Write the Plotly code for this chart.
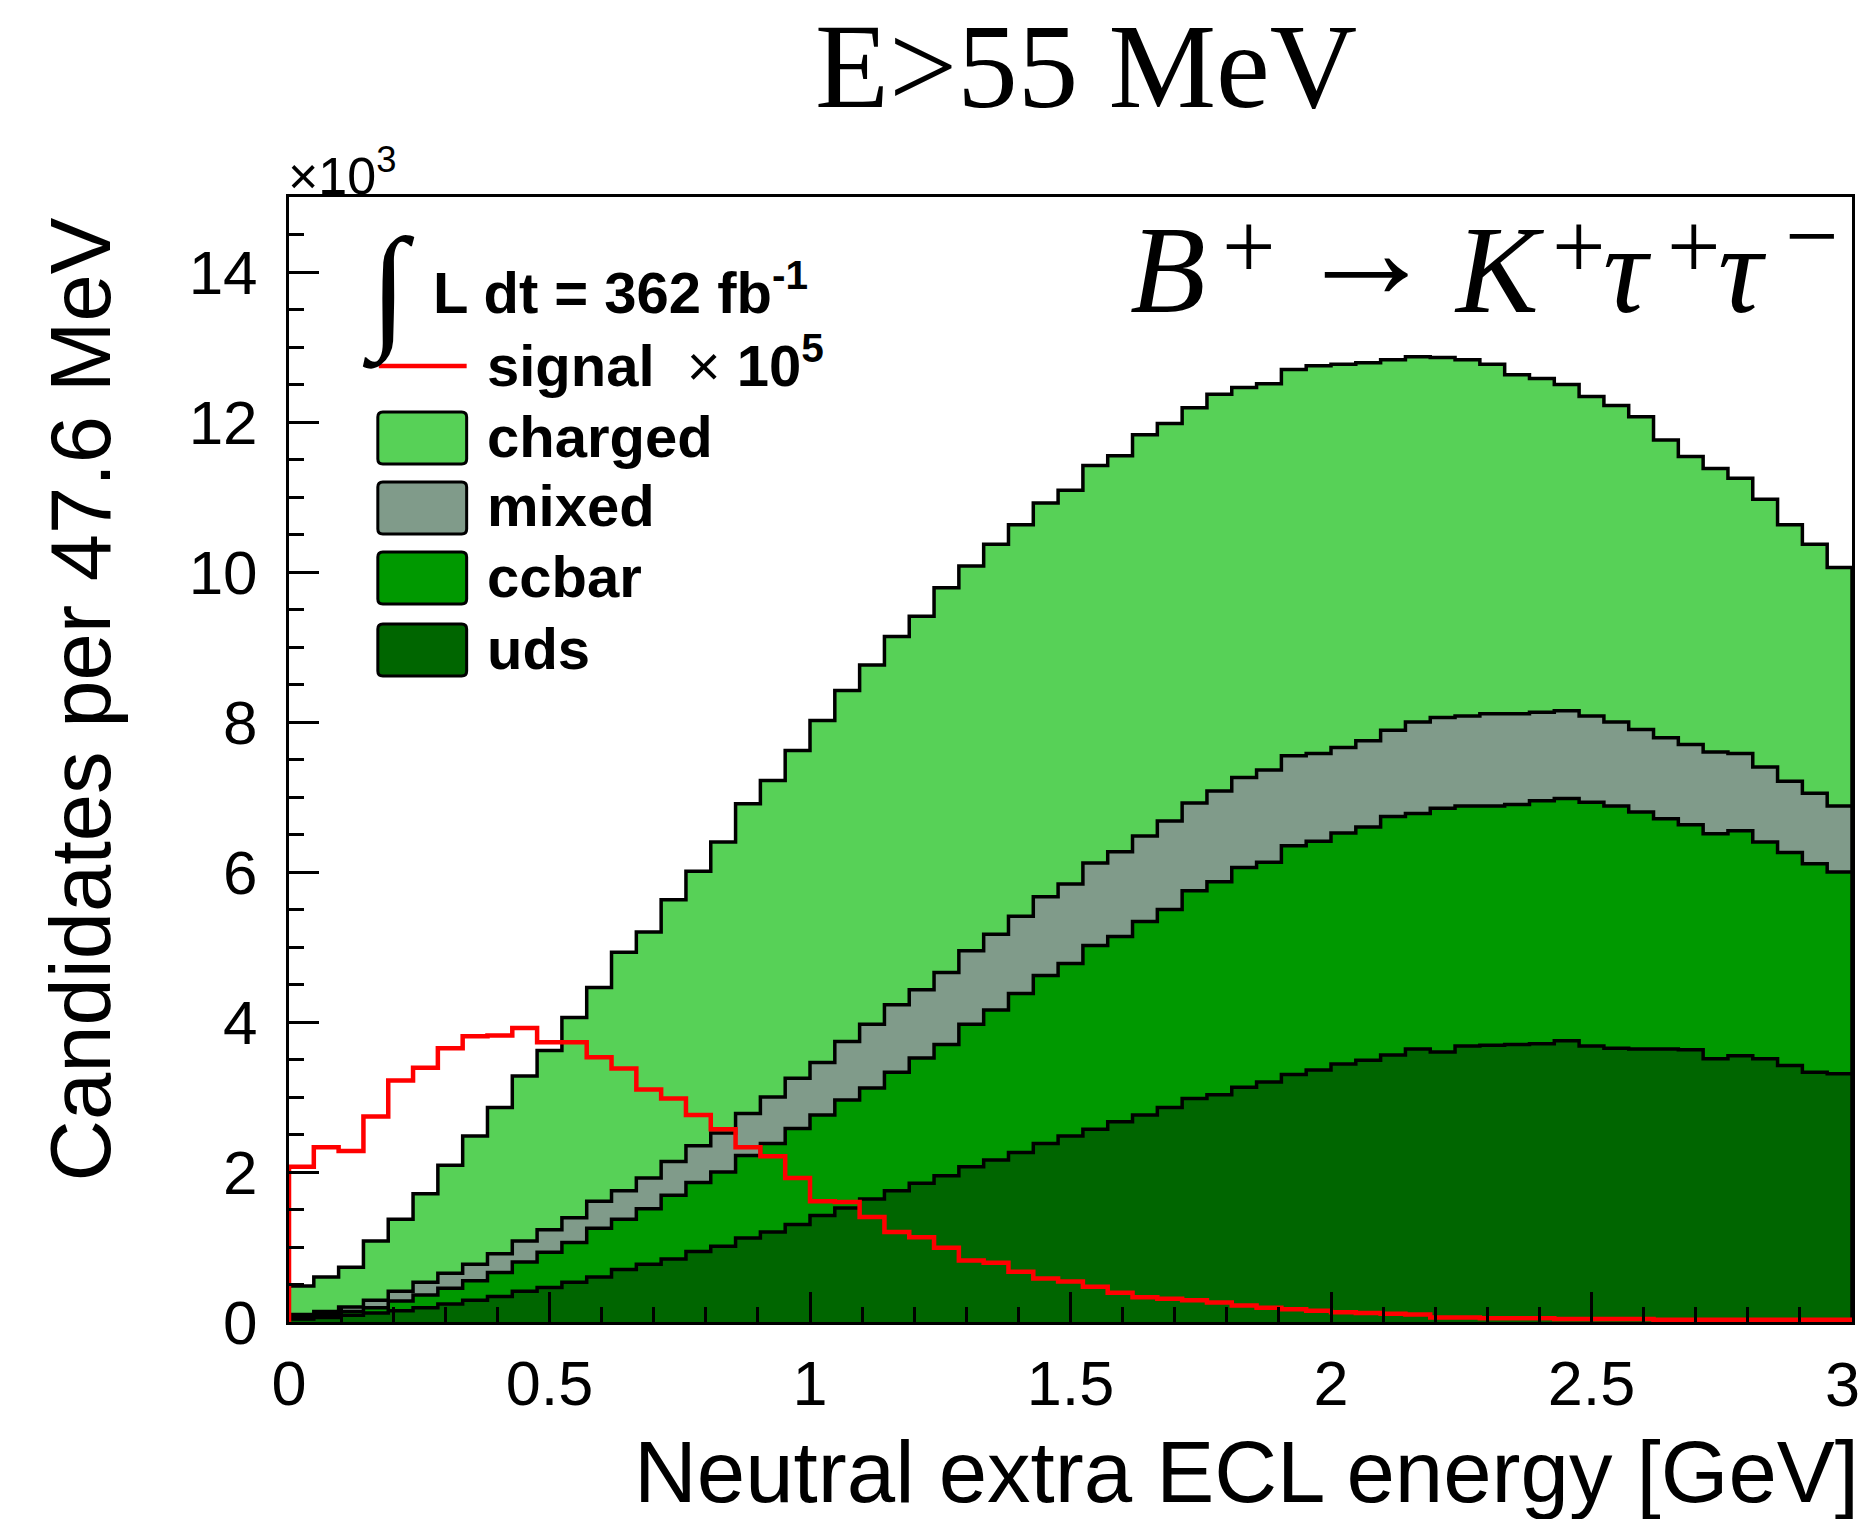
import numpy as np
import plotly.graph_objects as go

# ---------------- data (candidates per bin, in units of 10^3) ----------------
E_MIN, E_MAX, N_BINS = 0.0, 3.0, 63

uds = [0.04, 0.06, 0.09, 0.12, 0.15, 0.19, 0.24, 0.29, 0.34, 0.41,
       0.46, 0.53, 0.60, 0.70, 0.77, 0.84, 0.94, 1.01, 1.12, 1.20,
       1.30, 1.42, 1.52, 1.64, 1.75, 1.85, 1.95, 2.07, 2.16, 2.26,
       2.38, 2.48, 2.57, 2.67, 2.76, 2.86, 2.98, 3.03, 3.13, 3.20,
       3.30, 3.36, 3.44, 3.49, 3.56, 3.64, 3.60, 3.68, 3.69, 3.70,
       3.71, 3.75, 3.68, 3.65, 3.64, 3.64, 3.63, 3.51, 3.55, 3.51,
       3.42, 3.33, 3.31]
ccbar = [0.03, 0.04, 0.05, 0.07, 0.13, 0.17, 0.21, 0.26, 0.32, 0.39,
         0.47, 0.53, 0.65, 0.67, 0.74, 0.85, 0.92, 0.99, 1.10, 1.18,
         1.28, 1.34, 1.44, 1.48, 1.58, 1.67, 1.75, 1.90, 2.00, 2.12,
         2.24, 2.30, 2.45, 2.47, 2.58, 2.64, 2.77, 2.84, 2.93, 2.93,
         3.05, 3.05, 3.08, 3.11, 3.18, 3.14, 3.25, 3.20, 3.19, 3.20,
         3.24, 3.23, 3.25, 3.23, 3.16, 3.07, 3.00, 3.00, 3.00, 2.89,
         2.84, 2.78, 2.69]
mixed = [0.03, 0.04, 0.06, 0.10, 0.13, 0.17, 0.20, 0.22, 0.25, 0.28,
         0.30, 0.33, 0.36, 0.38, 0.41, 0.45, 0.49, 0.52, 0.56, 0.62,
         0.67, 0.70, 0.78, 0.85, 0.90, 0.91, 0.96, 0.98, 1.01, 1.03,
         1.05, 1.06, 1.10, 1.13, 1.14, 1.18, 1.17, 1.21, 1.20, 1.23,
         1.20, 1.17, 1.14, 1.15, 1.15, 1.22, 1.21, 1.20, 1.23, 1.21,
         1.18, 1.17, 1.15, 1.12, 1.10, 1.08, 1.07, 1.09, 1.03, 1.00,
         0.95, 0.94, 0.88]
charged = [0.38, 0.46, 0.53, 0.79, 0.96, 1.18, 1.44, 1.71, 1.95, 2.20,
           2.39, 2.67, 2.85, 3.18, 3.28, 3.49, 3.66, 3.88, 4.13, 4.22,
           4.37, 4.56, 4.68, 4.79, 4.91, 4.98, 5.13, 5.13, 5.20, 5.22,
           5.25, 5.25, 5.30, 5.28, 5.35, 5.30, 5.27, 5.29, 5.20, 5.15,
           5.15, 5.17, 5.11, 5.04, 4.94, 4.87, 4.80, 4.75, 4.66, 4.52,
           4.45, 4.35, 4.26, 4.22, 4.17, 3.97, 3.84, 3.78, 3.67, 3.57,
           3.42, 3.32, 3.18]
signal_x1e5 = [2.07, 2.33, 2.28, 2.74, 3.22, 3.39, 3.65, 3.81, 3.82, 3.92,
               3.73, 3.73, 3.53, 3.38, 3.10, 2.98, 2.76, 2.57, 2.33, 2.21,
               1.92, 1.61, 1.60, 1.40, 1.20, 1.13, 0.99, 0.82, 0.79, 0.67,
               0.58, 0.54, 0.47, 0.39, 0.33, 0.31, 0.29, 0.26, 0.22, 0.19,
               0.17, 0.15, 0.13, 0.12, 0.11, 0.10, 0.06, 0.06, 0.05, 0.05,
               0.05, 0.04, 0.04, 0.04, 0.04, 0.03, 0.03, 0.03, 0.03, 0.03,
               0.03, 0.03, 0.03]

x_tick_vals = [0, 0.5, 1, 1.5, 2, 2.5, 3]
x_tick_text = ["0", "0.5", "1", "1.5", "2", "2.5", "3"]
y_tick_vals = [0, 2, 4, 6, 8, 10, 12, 14]
y_tick_text = ["0", "2", "4", "6", "8", "10", "12", "14"]

# ---------------- styling ----------------
COLORS = {"charged": "#57d157", "mixed": "#809b8a", "ccbar": "#009900", "uds": "#006600"}
SANS = "Liberation Sans, Arial, Helvetica, sans-serif"
SERIF = "Liberation Serif, Times New Roman, serif"

PAGE_W, PAGE_H = 1874, 1527
OFF = 8                      # default body margin of the html page
W, H = PAGE_W - 2 * OFF, PAGE_H - 2 * OFF
# plot-area edges in page pixels
L, R, T, B = 289, 1855, 197, 1322


def px(x):
    return (x - L) / (R - L)


def py(y):
    return (B - y) / (B - T)


edges = np.linspace(E_MIN, E_MAX, N_BINS + 1)


def step_xy(vals):
    vals = np.asarray(vals, dtype=float)
    x = np.concatenate([[edges[0]], edges[:-1], [edges[-1]], [edges[-1]]])
    y = np.concatenate([[0.0], vals, [vals[-1]], [0.0]])
    return x, y


# stack bottom -> top: uds, ccbar, mixed, charged
order = [("uds", uds), ("ccbar", ccbar), ("mixed", mixed), ("charged", charged)]
cum = np.cumsum(np.array([v for _, v in order], dtype=float), axis=0)

fig = go.Figure()
for i in reversed(range(len(order))):
    name = order[i][0]
    x, y = step_xy(cum[i])
    fig.add_trace(go.Scatter(
        x=x, y=y, mode="lines", line=dict(shape="hv", color="black", width=3.5),
        fill="tozeroy", fillcolor=COLORS[name], name=name, showlegend=False,
        hoverinfo="skip"))

xs, ys = step_xy(signal_x1e5)
fig.add_trace(go.Scatter(x=xs, y=ys, mode="lines",
                         line=dict(shape="hv", color="#ff0000", width=4.5),
                         name="signal", showlegend=False, hoverinfo="skip"))

axis_common = dict(showline=True, linecolor="black", linewidth=3, mirror=True,
                   ticks="inside", ticklen=30, tickwidth=3, tickcolor="black",
                   showgrid=False, zeroline=False)

# the last x label sits on the page edge; it is drawn as an annotation below
x_axis_text = x_tick_text[:-1] + [""]
fig.update_xaxes(range=[E_MIN, E_MAX], tickmode="array", tickvals=x_tick_vals,
                 ticktext=x_axis_text, ticklabelstandoff=4,
                 tickfont=dict(family=SANS, size=63, color="black"),
                 minor=dict(dtick=0.1, ticks="inside", ticklen=15, tickwidth=2.5,
                            tickcolor="black", showgrid=False),
                 **axis_common)
fig.update_yaxes(range=[0, 15], tickmode="array", tickvals=y_tick_vals,
                 ticktext=y_tick_text, ticklabelstandoff=16,
                 tickfont=dict(family=SANS, size=62, color="black"),
                 minor=dict(dtick=0.5, ticks="inside", ticklen=15, tickwidth=2.5,
                            tickcolor="black", showgrid=False),
                 **axis_common)

ann = []


def text(t, x, y, size, family=SANS, xanchor="left", yanchor="middle", **kw):
    ann.append(dict(text=t, x=px(x), y=py(y), xanchor=xanchor, yanchor=yanchor,
                    font=dict(family=family, size=size, color="black"), **kw))


# last x tick label
text(x_tick_text[-1], PAGE_W - OFF - 1, 1384, 63, xanchor="right")
# title
text("E>55 MeV", 1088, 66, 121, family=SERIF, xanchor="center")
# axis titles
text("Neutral extra ECL energy [GeV]", 1864, 1471, 87, xanchor="right")
text("Candidates per 47.6 MeV", 80, 215, 85, xanchor="center", yanchor="top", textangle=-90)
# x10^3
text("×10<sup>3</sup>", 286, 207, 52, yanchor="bottom")

# decay label  B+ -> K+ tau+ tau-
MAIN, SUP = 124, 95
YM, YS = 270, 246
text("<i>B</i>", 1130, YM, MAIN, family=SERIF)
text("+", 1222, YS, SUP, family=SERIF)
text("→", 1368, 250, 140, family=SERIF, xanchor="center")
text("<i>K</i>", 1454, YM, MAIN, family=SERIF)
text("+", 1552, YS, SUP, family=SERIF)
text("<i>τ</i>", 1604, YM, MAIN, family=SERIF)
text("+", 1668, YS, SUP, family=SERIF)
text("<i>τ</i>", 1719, YM, MAIN, family=SERIF)
text("−", 1786, YS - 10, SUP, family=SERIF)

# legend header
text("∫", 389, 290, 136, family=SERIF, xanchor="center")
text("<b>L dt = 362 fb<sup>-1</sup></b>", 431, 288, 58)
text("<b>signal</b>  × <b>10<sup>5</sup></b>", 485, 362, 58)

shapes = [dict(type="line", xref="paper", yref="paper", x0=px(379), x1=px(467),
               y0=py(366), y1=py(366), line=dict(color="#ff0000", width=4.5))]


def rounded_rect(x0, y0, x1, y1, r=5):
    X0, X1 = px(x0), px(x1)
    Y0, Y1 = py(y0), py(y1)  # Y0 is top
    rx = r / (R - L)
    ry = r / (B - T)
    return (f"M {X0+rx},{Y0} L {X1-rx},{Y0} Q {X1},{Y0} {X1},{Y0-ry} "
            f"L {X1},{Y1+ry} Q {X1},{Y1} {X1-rx},{Y1} L {X0+rx},{Y1} "
            f"Q {X0},{Y1} {X0},{Y1+ry} L {X0},{Y0-ry} Q {X0},{Y0} {X0+rx},{Y0} Z")


legend_rows = [("charged", 412), ("mixed", 482), ("ccbar", 552), ("uds", 624)]
for name, ytop in legend_rows:
    shapes.append(dict(type="path", xref="paper", yref="paper",
                       path=rounded_rect(378, ytop, 467, ytop + 52),
                       fillcolor=COLORS[name], line=dict(color="black", width=3)))
    text(f"<b>{name}</b>", 485, ytop + 24, 58)

for a in ann:
    a["xref"] = "paper"
    a["yref"] = "paper"
    a["showarrow"] = False

fig.update_layout(width=W, height=H,
                  margin=dict(l=L - OFF, r=(OFF + W) - R, t=T - OFF,
                              b=(OFF + H) - B, pad=0),
                  paper_bgcolor="white", plot_bgcolor="white",
                  annotations=ann, shapes=shapes, showlegend=False)

fig.write_html("out.html", config={"displayModeBar": False})
